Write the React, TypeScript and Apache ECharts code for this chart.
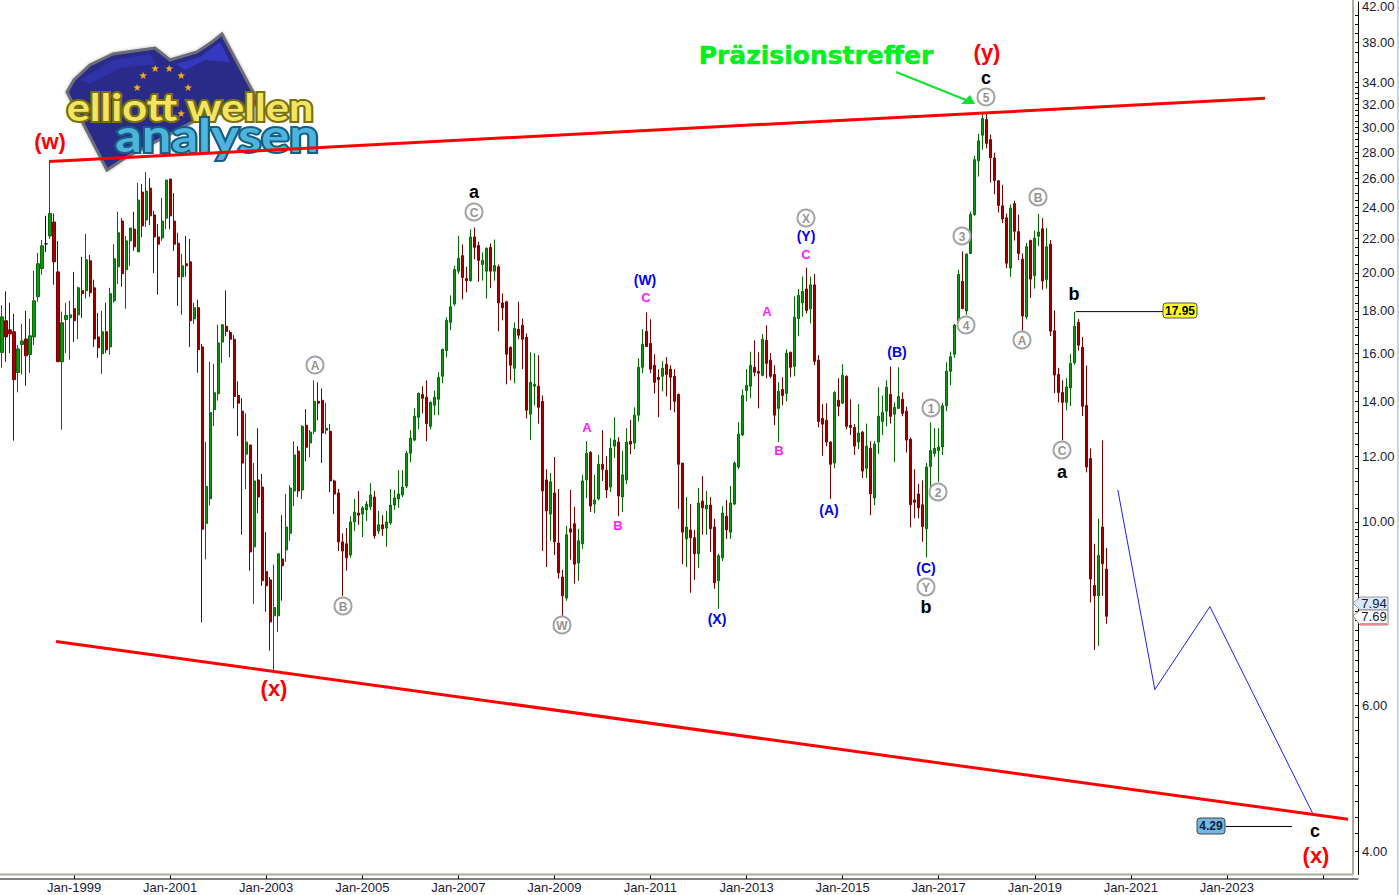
import React, { useEffect, useRef } from "react";
import * as echarts from "echarts";

// monthly candles, each row: open, high, low, close
const candles1997: number[][] = [
[16.03,18.29,15.36,17.70],[17.51,19.0,15.62,16.74],[17.07,18.41,16.01,16.88],[16.98,17.85,12.54,14.86],[15.16,16.37,14.35,16.19],[16.39,17.36,15.08,16.55],[16.64,18.0,14.61,15.88],[15.94,17.6,15.15,16.79],[16.74,20.12,16.37,18.51],[18.72,21.15,18.46,20.52],
[20.25,21.93,19.9,21.57],[21.69,23.45,21.21,21.69],[22.17,27.24,21.99,23.6],[23.05,23.6,19.35,20.63],[20.06,21.87,15.62,15.62],[15.62,17.96,12.93,17.41],[17.57,18.41,16.01,17.77],[17.65,18.51,15.71,17.8],[18.11,20.06,16.5,17.51],[17.8,19.25,16.64,19.19],
[19.04,20.92,17.65,18.88],[19.04,22.3,18.62,20.75],[20.69,21.03,18.72,18.93],[19.19,19.63,16.28,16.64],[16.74,17.9,15.79,16.24],[15.97,18.0,15.1,16.98],[16.98,18.41,16.01,16.15],[16.28,19.19,15.93,18.88],[18.51,21.67,18.41,20.81],[20.35,23.72,19.4,22.37],
[23.11,23.3,19.25,19.96],[20.18,22.17,18.11,21.87],[21.87,22.67,20.4,22.67],[22.6,23.72,21.27,21.51],[21.21,25.69,21.21,24.5],[25.05,25.62,22.1,22.8],[23.18,26.49,22.74,25.12],[25.33,26.05,22.86,23.45],[23.51,23.78,20.0,22.11],[22.11,22.92,18.83,21.67],
[22.05,24.64,21.87,23.11],[23.3,25.91,22.6,25.91],[25.98,25.98,22.6,23.45],[23.11,24.98,21.27,21.67],[21.73,22.37,18.25,19.79],[19.79,21.09,17.8,20.4],[20.52,22.17,19.79,20.4],[20.63,21.99,16.28,17.51],[17.6,18.41,17.36,18.16],[18.16,18.56,15.15,16.15],
[16.28,16.41,7.56,9.8],[9.96,12.5,9.01,11.04],[10.67,15.62,10.47,13.56],[13.67,15.53,13.06,14.33],[14.29,17.31,14.02,16.46],[16.5,17.35,15.57,17.31],
];
const candles2002: number[][] = [
[17.24,19.05,16.77,17.0],[16.95,17.05,15.82,16.63],[16.63,16.82,13.72,14.18],[14.22,14.79,12.7,13.92],[13.61,14.11,9.65,11.78],[12.08,13.53,10.96,12.49],[12.39,12.39,8.73,9.2],[9.33,11.78,7.96,11.21],[11.24,12.98,10.25,10.72],[11.02,11.43,8.37,8.49],
[8.71,9.72,7.79,8.37],[8.51,8.58,6.99,7.57],[7.7,8.88,6.59,7.88],[7.7,9.15,7.36,9.15],[9.02,10.19,8.03,8.85],[9.25,10.81,8.95,9.86],[9.69,11.08,9.49,10.99],[10.9,12.52,10.45,12.05],[12.18,12.35,10.72,10.9],[10.93,13.09,10.66,13.05],
[13.09,13.69,11.84,12.31],[12.46,12.91,11.98,12.84],[12.87,14.83,12.77,13.99],[13.99,14.75,13.27,13.92],[14.03,14.5,11.78,12.81],[12.91,13.92,12.77,12.98],[12.87,13.13,10.87,11.21],[11.21,11.25,10.22,10.81],[10.84,10.96,9.22,9.46],[9.46,9.69,8.14,9.22],
[9.41,9.83,8.73,9.05],[9.12,10.16,9.05,10.0],[10.0,10.66,9.75,10.28],[10.25,10.9,9.92,10.19],[10.22,10.45,9.59,10.4],[10.34,10.6,10.03,10.51],[10.43,11.14,10.34,10.78],[10.72,10.9,9.54,9.62],[9.75,10.31,9.67,9.92],[9.92,10.19,9.62,9.81],
[9.83,10.31,9.33,10.0],[9.97,10.96,9.92,10.48],[10.48,10.93,10.34,10.69],[10.66,11.55,10.4,10.81],[10.78,11.55,10.72,11.02],[11.05,12.18,10.99,12.11],[12.11,12.91,11.81,12.63],[12.56,13.72,12.52,13.42],[13.38,14.34,12.94,14.3],[14.26,14.59,13.53,14.11],
[14.15,14.83,12.52,13.15],[13.05,13.99,12.94,13.95],[13.84,14.42,13.46,14.15],[14.07,15.17,13.46,14.96],[15.0,16.2,14.71,16.17],[16.12,17.68,15.82,17.53],[17.43,18.79,17.05,18.2],[18.35,20.4,18.25,20.19],
];
const candles2007: number[][] = [
[20.1,22.18,19.95,20.82],[20.99,21.65,18.58,19.75],[19.69,20.35,18.95,19.58],[19.58,22.58,19.52,22.11],[22.11,22.7,20.77,21.48],[21.59,21.83,19.52,20.71],[20.48,21.18,19.58,20.71],[20.1,21.48,18.63,21.42],[21.48,21.71,19.17,20.1],[20.1,21.95,19.58,20.42],
[20.35,20.48,17.0,18.4],[18.4,18.89,17.53,18.15],[18.46,18.51,14.67,15.95],[16.26,16.3,14.83,15.47],[15.34,17.43,14.71,17.14],[17.1,18.46,16.63,16.82],[17.29,17.62,15.3,16.63],[16.72,16.9,13.34,13.65],[13.5,16.04,12.56,14.75],[14.59,16.0,13.84,14.67],
[14.59,15.91,13.15,13.76],[13.99,14.22,9.22,10.9],[11.24,11.58,8.82,10.31],[10.22,11.46,9.49,11.18],[10.84,11.98,9.12,9.46],[9.43,10.96,8.54,8.68],[8.58,8.75,7.7,8.14],[8.09,9.89,8.03,9.65],[9.81,10.93,9.0,9.72],[9.95,10.43,8.42,8.89],
[8.92,9.81,8.49,9.49],[9.41,11.4,9.28,11.21],[11.24,12.52,10.69,12.11],[12.14,12.18,10.28,10.45],[10.51,11.4,10.25,10.63],[10.66,12.05,10.62,11.74],[11.74,12.91,11.21,11.58],[11.55,12.01,10.69,10.93],[11.02,12.63,10.87,12.28],[12.35,13.38,11.95,12.56],
[12.49,12.66,10.16,10.75],[10.72,12.18,10.28,11.4],[11.24,12.98,11.11,12.49],[12.52,13.29,12.08,12.42],[12.46,13.76,12.25,13.46],[13.46,15.77,13.23,15.38],[15.38,17.1,15.13,16.4],[17.0,17.92,16.28,16.3],[16.44,17.58,15.13,15.3],[15.47,15.95,14.3,14.75],
[14.96,15.3,13.38,14.87],[15.0,15.64,14.39,15.34],[15.51,15.82,14.18,15.08],[15.3,15.47,13.65,14.96],[15.0,15.3,13.57,13.99],[14.26,14.3,10.37,11.74],
];
const candles2011: number[][] = [
[11.78,11.78,8.89,9.72],[9.54,10.72,8.82,9.86],[9.78,10.51,8.21,9.57],[9.57,9.78,8.51,9.15],[9.15,10.99,8.8,10.54],[10.6,11.36,9.65,10.4],[10.37,10.9,9.65,10.48],[10.48,10.72,9.2,9.81],[9.86,10.09,8.3,8.44],[8.49,9.15,7.85,9.1],
[9.05,10.45,8.97,10.25],[10.16,10.63,9.54,9.78],[9.72,11.05,9.54,10.54],[10.51,11.84,10.48,11.78],[11.65,13.2,11.58,12.77],[12.74,14.46,12.7,14.22],[14.42,15.3,13.99,14.63],[14.59,16.06,14.11,15.47],[15.38,16.58,15.0,15.17],[15.21,16.04,13.72,15.13],
[15.04,16.87,15.0,16.63],[16.58,17.29,14.92,15.55],[15.69,16.0,14.92,15.0],[15.08,15.47,13.09,13.46],[13.72,14.75,12.49,14.39],[14.46,14.96,13.84,14.22],[14.3,16.17,13.99,16.0],[16.04,16.06,14.96,15.38],[15.42,18.74,15.0,17.68],[17.62,19.13,16.77,18.79],
[18.4,19.8,17.71,19.0],[19.13,20.3,17.87,18.02],[18.1,19.8,17.38,19.35],[19.35,19.95,15.47,15.64],[15.69,15.91,13.01,13.23],[13.34,13.88,12.02,13.13],[13.27,13.92,12.35,12.49],[12.49,12.52,10.66,11.74],[11.78,14.39,11.61,14.34],[14.03,14.92,13.42,13.8],
[13.92,15.51,13.88,15.04],[15.0,15.04,12.94,13.05],[13.09,14.07,12.74,13.01],[13.01,13.13,12.05,12.35],[12.49,13.88,12.25,12.81],[12.84,12.88,11.3,11.52],[11.61,13.15,11.3,12.35],[12.28,12.52,10.19,10.81],[10.69,12.52,10.48,12.42],[12.49,14.55,12.08,13.42],
[13.23,14.22,12.74,13.57],[13.61,14.83,13.05,14.55],[14.26,15.42,13.15,13.42],[13.5,13.95,11.81,13.76],[13.72,15.38,13.69,14.18],[14.07,14.34,13.42,13.53],
];
const candles2016: number[][] = [
[13.61,13.79,12.13,12.56],[12.59,12.65,9.85,10.49],[10.63,11.58,10.1,10.56],[10.81,11.12,10.1,10.4],[10.49,11.23,9.46,9.87],[9.81,11.79,9.06,11.65],[11.67,13.19,11.01,12.2],[12.1,12.98,11.99,12.27],[12.2,12.98,11.18,12.32],[12.32,13.93,12.05,13.82],
[13.82,15.6,13.61,15.21],[15.21,16.07,14.63,15.84],[15.95,17.35,15.79,17.3],[17.47,20.18,17.35,19.92],[19.54,21.23,18.09,18.11],[17.99,21.12,17.79,21.08],[21.12,23.73,21.08,23.54],[23.54,27.7,23.44,27.42],[27.34,29.47,26.16,28.9],[29.35,31.12,28.18,30.75],
[30.66,31.18,28.29,28.69],[28.99,29.4,25.72,27.57],[27.55,27.96,24.9,25.88],[25.85,25.9,23.67,24.14],[24.11,25.57,22.98,23.25],[23.32,23.6,20.26,20.55],[20.28,24.21,19.79,23.96],[24.26,24.46,21.89,22.46],[22.44,23.53,20.73,21.12],[20.79,21.12,17.0,17.74],
[17.7,21.75,17.58,21.52],[21.89,21.95,18.66,19.66],[19.86,22.5,19.15,22.04],[22.15,23.57,21.55,22.42],[22.62,23.3,19.09,19.56],[19.64,22.67,19.15,21.52],[21.67,21.93,16.78,17.01],[17.03,18.02,14.31,15.05],[15.08,15.36,13.95,14.34],[14.34,14.83,12.55,13.95],
[13.95,14.93,13.64,14.56],[14.52,15.97,13.81,15.55],[15.58,17.95,15.49,17.24],[17.43,17.6,16.12,16.36],[16.26,16.74,13.43,13.8],[13.83,15.46,11.48,11.65],[11.93,12.27,7.99,8.53],[8.38,9.41,7.0,8.14],[8.14,10.08,7.08,9.11],[9.86,12.55,8.14,8.9],[8.77,9.3,7.53,7.69],
];

const firstYear = 1997;
const firstMonth = 6; // July
const monthCount = 338;
const monthNames = ["Jan","Feb","Mar","Apr","May","Jun","Jul","Aug","Sep","Oct","Nov","Dec"];

// price axis
const priceLabels = [4,6,10,12,14,16,18,20,22,24,26,28,30,32,34,38,42];
const priceMajorTicks = [4,6,8,10,12,14,16,18,20,22,24,26,28,30,32,34,38,42];
const priceMinorSteps = [[4,10,0.2],[10,20,0.4],[20,34,0.5],[34,42,1]];

// drawn lines: [month position, price]
const upperTrend = [[12.25,27.27],[316,32.53]];
const lowerTrend = [[14,7.17],[336.75,4.37]];
const forecast = [[279.25,10.93],[288.5,6.27],[302.25,7.9],[328.25,4.41]];
const leaderHigh = [[268.75,17.96],[290.75,17.96]];
const leaderLow = [[306.25,4.283],[322.75,4.283]];

// wave labels: text, x, y
const grayCircles: [string, number, number][] = [["A",315,365],["B",343,606],["C",474,212],["W",562,625],["X",806,218],["Y",926,587],["1",931,408],["2",938,492],["3",962,236],["4",966,325],["5",986,97],["A",1022,340],["B",1038,197],["C",1062,450]];
const blackLabels: [string, number, number][] = [["a",474,192],["b",926,607],["c",986,78],["a",1062,472],["b",1074,294],["c",1315,831]];
const redLabels: [string, number, number][] = [["(w)",50,141],["(x)",274,688],["(y)",987,52],["(x)",1316,855]];
const blueLabels: [string, number, number][] = [["(W)",645,280],["(Y)",806,236],["(B)",897,352],["(A)",829,510],["(C)",926,568],["(X)",717,619]];
const magentaLabels: [string, number, number][] = [["C",646,297],["C",806,254],["A",587,427],["B",618,525],["A",767,311],["B",779,450]];
const flagStars: [number, number][] = [[143,75],[155,68],[169,68],[181,75],[188,87],[181,113],[137,87]];

const SANS = '"Liberation Sans", Arial, sans-serif';

function label(text: string, x: number, y: number, font: string, fill: string, z = 10) {
  return { type: "text", x, y, z, silent: true, style: { text, font, fill, textAlign: "center", textVerticalAlign: "middle" } };
}

function rangeTicks(): number[] {
  const out: number[] = [];
  priceMinorSteps.forEach(([a, b, s]) => {
    const n = Math.round((b - a) / s);
    for (let k = 0; k < n; k++) out.push(+(a + k * s).toFixed(2));
  });
  return out;
}

function buildOption() {
  const rows = [...candles1997, ...candles2002, ...candles2007, ...candles2011, ...candles2016];
  const ohlc = rows.map(([o, h, l, c]) => [o, c, l, h]);
  const categories: string[] = [];
  for (let i = 0; i < monthCount; i++) {
    const m = firstMonth + i;
    categories.push(`${monthNames[m % 12]}-${firstYear + Math.floor(m / 12)}`);
  }
  const isTick = (_: number, v: string) => v.startsWith("Jan-") && +v.slice(4) % 2 === 1;
  const isLabel = (i: number, v: string) => isTick(i, v) && +v.slice(4) <= 2023;

  const lineSeries = (data: number[][], color: string, width: number, z: number) => ({
    type: "line", data, xAxisIndex: 1, yAxisIndex: 0, symbol: "none", silent: true, z,
    lineStyle: { color, width }, itemStyle: { color },
  });

  const flagZ = 3;
  const graphic: any[] = [
    // frame
    { type: "line", z: 1, silent: true, shape: { x1: 1353, y1: 0, x2: 1353, y2: 874.5 }, style: { stroke: "#aeac9e", lineWidth: 2 } },
    { type: "line", z: 1, silent: true, shape: { x1: 0, y1: 874.5, x2: 1353, y2: 874.5 }, style: { stroke: "#aeac9e", lineWidth: 2 } },
    { type: "line", z: 4, silent: true, shape: { x1: 0, y1: 879, x2: 1358.5, y2: 879 }, style: { stroke: "#000", lineWidth: 1 } },
    { type: "line", z: 1, silent: true, shape: { x1: 1398, y1: 0, x2: 1398, y2: 895 }, style: { stroke: "#c4d6ea", lineWidth: 2 } },
    // logo
    { type: "polygon", z: flagZ, silent: true, shape: { points: [[67,92],[74,80],[90,65],[113,54],[155,48],[170,60],[197,52],[212,42],[222,34],[253,92],[258,104],[200,118],[125,158],[107,170]] }, style: { fill: "#2a2c88", stroke: "#6d6d78", lineWidth: 3, shadowBlur: 3, shadowColor: "rgba(0,0,0,0.35)" } },
    { type: "polygon", z: flagZ, silent: true, shape: { points: [[80,80],[113,60],[150,54],[156,64],[120,68],[90,84]] }, style: { fill: "#3033a8" } },
    { type: "polygon", z: flagZ, silent: true, shape: { points: [[176,64],[200,57],[220,42],[230,62],[205,60],[185,70]] }, style: { fill: "#3539c0" } },
    ...flagStars.map(([x, y]) => label("\u2605", x, y, '10px "DejaVu Sans"', "#f0b010", flagZ)),
    { type: "text", x: 190, y: 107, z: flagZ, silent: true, scaleX: 1.14, style: { text: "elliott wellen", font: 'bold 38px "Lato"', fill: "#f2e466", stroke: "#7a7008", lineWidth: 4, textAlign: "center", textVerticalAlign: "middle" } },
    { type: "text", x: 217, y: 134, z: flagZ, silent: true, scaleX: 1.14, style: { text: "analysen", font: 'bold 46px "Lato"', fill: "#4fb4dc", stroke: "#155f86", lineWidth: 4, textAlign: "center", textVerticalAlign: "middle" } },
    // headline and arrow
    { type: "text", x: 816, y: 55, z: 10, silent: true, style: { text: "Pr\u00e4zisionstreffer", font: 'bold 25px "DejaVu Sans"', fill: "#00f020", stroke: "#00f020", lineWidth: 0.5, textAlign: "center", textVerticalAlign: "middle" } },
    { type: "line", z: 10, silent: true, shape: { x1: 896, y1: 72, x2: 966, y2: 100 }, style: { stroke: "#10e030", lineWidth: 2 } },
    { type: "polygon", z: 10, silent: true, shape: { points: [[975,104],[961,104],[970,95]] }, style: { fill: "#10e030" } },
    // wave labels
    ...grayCircles.flatMap(([t, x, y]) => [
      { type: "circle", z: 10, silent: true, shape: { cx: x, cy: y, r: 8.5 }, style: { fill: "#fff", stroke: "#a3a3a3", lineWidth: 2 } },
      label(t, x, y + 0.5, `bold 12px ${SANS}`, "#949494", 11),
    ]),
    ...blackLabels.map(([t, x, y]) => label(t, x, y, `bold 18px ${SANS}`, "#000")),
    ...redLabels.map(([t, x, y]) => label(t, x, y, `bold 22px ${SANS}`, "#ff0000")),
    ...blueLabels.map(([t, x, y]) => label(t, x, y, `bold 14px ${SANS}`, "#0000ee")),
    ...magentaLabels.map(([t, x, y]) => label(t, x, y, `bold 13px ${SANS}`, "#ff22ff")),
    // badges
    { type: "rect", z: 10, silent: true, shape: { x: 1163, y: 303, width: 34, height: 15, r: 3 }, style: { fill: "#ffff22", stroke: "#555", lineWidth: 1 } },
    label("17.95", 1180, 311, `bold 12px ${SANS}`, "#000", 11),
    { type: "rect", z: 10, silent: true, shape: { x: 1197, y: 818, width: 28, height: 16, r: 3 }, style: { fill: "#72b8e2", stroke: "#444", lineWidth: 1 } },
    label("4.29", 1211, 826, `bold 12px ${SANS}`, "#10203a", 11),
    // last-price tags
    { type: "polygon", z: 10, silent: true, shape: { points: [[1353,603],[1360,597],[1388,597],[1388,610],[1360,610]] }, style: { fill: "#d8e8fa", stroke: "#9a9a9a", lineWidth: 1 } },
    label("7.94", 1374, 603, `13px ${SANS}`, "#10183a", 11),
    { type: "polygon", z: 12, silent: true, shape: { points: [[1353,616],[1360,610],[1388,610],[1388,625],[1360,625]] }, style: { fill: "#fff", stroke: "#8a8a8a", lineWidth: 1 } },
    { type: "line", z: 12, silent: true, shape: { x1: 1360, y1: 624, x2: 1387, y2: 624 }, style: { stroke: "#e88", lineWidth: 2 } },
    label("7.69", 1374, 616.5, `13px ${SANS}`, "#10183a", 13),
  ];

  return {
    animation: false,
    backgroundColor: "#fff",
    grid: { left: 0, top: 0, right: 46, bottom: 20.5 },
    xAxis: [
      {
        type: "category", data: categories, boundaryGap: true, position: "bottom", offset: 4.5,
        axisLine: { show: false },
        axisTick: { show: true, inside: true, length: 5, alignWithLabel: true, interval: isTick, lineStyle: { color: "#000" } },
        axisLabel: { interval: isLabel, margin: 2, fontFamily: SANS, fontSize: 13, color: "#1a1a3a", formatter: (v: string) => v },
        splitLine: { show: false },
      },
      { type: "value", min: 0, max: monthCount, show: false, splitLine: { show: false } },
    ],
    yAxis: [
      {
        type: "log", min: 3.747, max: 42.53, position: "right", offset: 5, scale: true,
        axisLine: { show: true, onZero: false, lineStyle: { color: "#000" } },
        axisTick: { show: true, inside: true, length: 3, customValues: rangeTicks(), lineStyle: { color: "#000" } },
        axisLabel: { show: false },
        splitLine: { show: false },
        minorTick: { show: false },
      },
      {
        type: "log", min: 3.747, max: 42.53, position: "right", offset: 5, scale: true,
        axisLine: { show: false },
        axisTick: { show: true, inside: true, length: 5, customValues: priceMajorTicks, lineStyle: { color: "#000" } },
        axisLabel: { show: true, customValues: priceLabels, margin: 4, fontFamily: SANS, fontSize: 13, color: "#1a1a3a", formatter: (v: number) => (+v).toFixed(2), hideOverlap: false },
        splitLine: { show: false },
      },
    ],
    series: [
      {
        type: "candlestick", data: ohlc, xAxisIndex: 0, yAxisIndex: 0, barWidth: 2.6, silent: true, z: 2,
        itemStyle: { color: "#109610", color0: "#a80000", borderColor: "#006c00", borderColor0: "#780000", borderColorDoji: "#000", borderWidth: 1 },
      },
      lineSeries(upperTrend, "#ff0000", 3, 6),
      lineSeries(lowerTrend, "#ff0000", 3, 6),
      lineSeries(forecast, "#2020e0", 1, 5),
      lineSeries(leaderHigh, "#000", 1, 5),
      lineSeries(leaderLow, "#000", 1, 5),
    ],
    graphic: { elements: graphic },
  };
}

export default function App() {
  const ref = useRef<HTMLDivElement>(null);
  useEffect(() => {
    document.body.style.margin = "0";
    const chart = echarts.init(ref.current!, undefined, { renderer: "svg" });
    chart.setOption(buildOption() as any);
    return () => chart.dispose();
  }, []);
  return <div ref={ref} style={{ position: "absolute", left: 0, top: 0, width: 1399, height: 895 }} />;
}
